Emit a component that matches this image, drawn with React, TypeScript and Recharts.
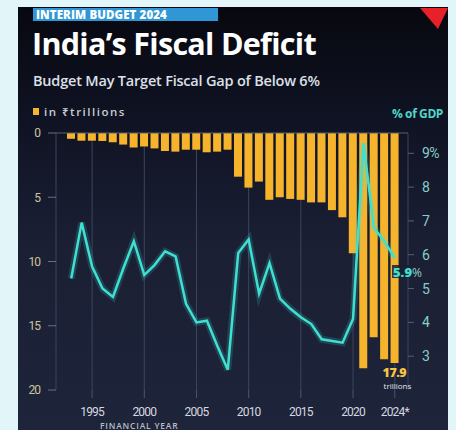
import { ComposedChart, Bar, Line, XAxis, YAxis, CartesianGrid, ReferenceLine, LabelList } from "recharts";

const YEARS = [
  1993, 1994, 1995, 1996, 1997, 1998, 1999, 2000, 2001, 2002, 2003, 2004, 2005, 2006, 2007, 2008,
  2009, 2010, 2011, 2012, 2013, 2014, 2015, 2016, 2017, 2018, 2019, 2020, 2021, 2022, 2023, 2024,
];
// fiscal deficit, ₹ trillions
const DEFICIT = [
  0.45, 0.6, 0.6, 0.62, 0.72, 0.9, 1.13, 1.05, 1.2, 1.4, 1.45, 1.3, 1.3, 1.5, 1.45, 1.3,
  3.4, 4.25, 3.78, 5.2, 5.0, 5.13, 5.2, 5.4, 5.4, 6.0, 6.56, 9.36, 18.3, 15.9, 17.6, 17.9,
];
// fiscal deficit, % of GDP
const PCT_GDP = [
  5.3, 6.95, 5.65, 5.0, 4.75, 5.6, 6.4, 5.4, 5.7, 6.1, 5.95, 4.55, 4.0, 4.05, 3.3, 2.6,
  6.05, 6.45, 4.85, 5.75, 4.7, 4.4, 4.15, 3.95, 3.5, 3.45, 3.4, 4.1, 9.3, 6.8, 6.4, 5.9,
];
const YEAR_TICKS = [1995, 2000, 2005, 2010, 2015, 2020, 2024];
const AMT_TICKS = [0, 5, 10, 15, 20];
const PCT_TICKS = [3, 4, 5, 6, 7, 8, 9];

const data = YEARS.map((year, i) => ({ year, amt: DEFICIT[i], pct: PCT_GDP[i] }));
const LAST = YEARS.length - 1;

const CYAN = "#3fe0d2";
const GOLD = "#f6b42c";
const FONT = "'Open Sans', 'Noto Sans', sans-serif";
const TICK_FONT = "Roboto, 'Noto Sans', sans-serif";

function AmtLabel(props: any) {
  const { x, y, width, height, index } = props;
  if (index !== LAST) return null;
  const bottom = Math.max(y, y + height);
  return (
    <g fontFamily={FONT}>
      <text x={x + width / 2 - 12} y={bottom + 14} textAnchor="start" fill="#f6c443" fontSize={12.5} fontWeight={800} letterSpacing={-0.5}>
        17.9
      </text>
      <text x={x + width / 2 - 11} y={bottom + 26} textAnchor="start" fill="#e6e8ee" fontSize={8}>
        trillions
      </text>
    </g>
  );
}

export default function App() {
  return (
    <div style={{ position: "relative", width: 456, height: 430, background: "#e2f5f8", overflow: "hidden" }}>
      <style>{`body{margin:0}`}</style>
      <div
        style={{
          position: "absolute", left: 18, top: 7, width: 430, height: 430,
          background: "linear-gradient(180deg, #07080f 0%, #0f1222 25%, #1a1f34 55%, #1e2439 100%)",
        }}
      />
      <svg width={456} height={430} style={{ position: "absolute", left: 0, top: 0 }}>
        <rect x={33} y={8} width={185} height={13} fill="#2f97d6" />
        <text x={36} y={19} fill="#ffffff" fontFamily={FONT} fontWeight={800} fontSize={11.5} letterSpacing={0.1}>
          INTERIM BUDGET 2024
        </text>
        <polygon points="420,8 448,8 438,29" fill="#e8202a" />
        <text x={32} y={55} fill="#ffffff" fontFamily={FONT} fontWeight={700} fontSize={30.5} letterSpacing={-0.7}>
          India’s Fiscal Deficit
        </text>
        <text x={33} y={86} fill="#dde0e8" fontFamily={FONT} fontWeight={600} fontSize={14.5} letterSpacing={-0.2}>
          Budget May Target Fiscal Gap of Below 6%
        </text>
        <rect x={33} y={108} width={6} height={7} fill={GOLD} />
        <text x={44} y={116} fill="#c9ccd4" fontFamily={FONT} fontWeight={600} fontSize={11.5} letterSpacing={1.5}>
          in ₹trillions
        </text>
        <text x={443} y={118} textAnchor="end" fill="#4fd6c8" fontFamily={FONT} fontWeight={700} fontSize={12} letterSpacing={-0.4}>
          % of GDP
        </text>
        <text x={100} y={429} fill="#b8bcc8" fontFamily={FONT} fontWeight={600} fontSize={8.5} letterSpacing={0.8}>
          FINANCIAL YEAR
        </text>
      </svg>
      <ComposedChart
        width={456}
        height={430}
        data={data}
        margin={{ top: 133, right: 0, bottom: 10, left: 0 }}
        style={{ position: "absolute", left: 0, top: 0 }}
      >
        <CartesianGrid horizontal={false} stroke="#3a4560" strokeWidth={1} />
        <XAxis
          dataKey="year"
          ticks={YEAR_TICKS}
          interval={0}
          height={30}
          padding={{ left: 10, right: 8 }}
          axisLine={false}
          tickSize={8}
          tickMargin={9}
          tickLine={{ stroke: "#4a5672" }}
          tick={{ fill: "#d5d8e0", fontSize: 12, fontFamily: TICK_FONT, letterSpacing: -0.8 }}
          tickFormatter={(v: number) => (v === 2024 ? "2024*" : String(v))}
        />
        <YAxis
          yAxisId="amt"
          domain={[0, 20]}
          reversed
          ticks={AMT_TICKS}
          width={56}
          axisLine={false}
          tickSize={8}
          tickMargin={8}
          tickLine={{ stroke: "#6a6f80" }}
          tick={{ fill: "#cfc4a0", fontSize: 12, fontFamily: TICK_FONT, letterSpacing: -1 }}
        />
        <YAxis
          yAxisId="pct"
          orientation="right"
          domain={[2, 9.6]}
          ticks={PCT_TICKS}
          width={48}
          axisLine={false}
          tickSize={6}
          tickMargin={8}
          tickLine={{ stroke: "#56607a" }}
          tick={{ fill: "#86cfc7", fontSize: 14, fontFamily: TICK_FONT, letterSpacing: -0.5 }}
          tickFormatter={(v: number) => (v === 9 ? "9%" : String(v))}
        />
        <ReferenceLine yAxisId="amt" y={0} stroke="#5a6070" strokeWidth={1} />
        <Bar yAxisId="amt" dataKey="amt" fill={GOLD} barSize={8} isAnimationActive={false}>
          <LabelList dataKey="amt" content={AmtLabel} />
        </Bar>
        <Line
          yAxisId="pct"
          dataKey="pct"
          type="linear"
          stroke={CYAN}
          strokeWidth={7}
          strokeOpacity={0.18}
          dot={false}
          activeDot={false}
          isAnimationActive={false}
        />
        <Line
          yAxisId="pct"
          dataKey="pct"
          type="linear"
          stroke={CYAN}
          strokeWidth={2.5}
          dot={false}
          activeDot={false}
          isAnimationActive={false}
        />
      </ComposedChart>
      <svg width={456} height={430} style={{ position: "absolute", left: 0, top: 0, pointerEvents: "none" }}>
        <rect x={392} y={265} width={19} height={13} fill="#1b2034" opacity={0.85} />
        <text x={393} y={277} textAnchor="start" fontFamily={FONT} fontSize={13}>
          <tspan fill={CYAN} fontWeight={800}>5.9</tspan>
          <tspan fill="#8fd3c9" fontSize={12}>%</tspan>
        </text>
      </svg>
    </div>
  );
}
